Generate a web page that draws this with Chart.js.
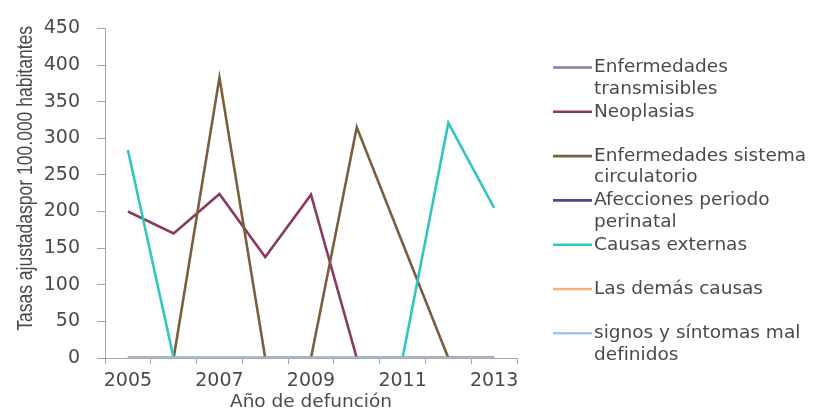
<!DOCTYPE html>
<html lang="es">
<head>
<meta charset="utf-8">
<title>Tasas ajustadas por causa de defunción, 2005–2013</title>
<script src="https://cdn.jsdelivr.net/npm/chart.js@4/dist/chart.umd.min.js"></script>
<style>
  html, body { margin: 0; padding: 0; background: #ffffff; }
  #wrap { position: relative; width: 822px; height: 415px; }
</style>
</head>
<body>
<div id="wrap"><canvas id="chart"></canvas></div>
<script>
// Años de defunción (eje X)
const years = ['2005', '2006', '2007', '2008', '2009', '2010', '2011', '2012', '2013'];

// Tasas ajustadas por 100.000 habitantes, por grupo de causas
const transmisibles = [0, 0, 0, 0, 0, 0, 0, 0, 0];
const neoplasias    = [200, 170, 224, 138, 223, 0, 0, 0, 0];
const circulatorio  = [0, 0, 383, 0, 0, 315, 157, 0, 0];
const perinatal     = [0, 0, 0, 0, 0, 0, 0, 0, 0];
const externas      = [284, 0, 0, 0, 0, 0, 0, 321, 205];
const demasCausas   = [0, 0, 0, 0, 0, 0, 0, 0, 0];
const malDefinidos  = [0, 0, 0, 0, 0, 0, 0, 0, 0];

// Nombres de las series (en varias líneas, como en la leyenda)
const seriesNames = [
  ['Enfermedades', 'transmisibles'],
  ['Neoplasias'],
  ['Enfermedades sistema', 'circulatorio'],
  ['Afecciones periodo', 'perinatal'],
  ['Causas externas'],
  ['Las demás causas'],
  ['signos y síntomas mal', 'definidos']
];
const seriesValues = [transmisibles, neoplasias, circulatorio, perinatal, externas, demasCausas, malDefinidos];
const seriesColors = ['#8080b0', '#8a3a62', '#7b5e3c', '#4b4b7d', '#33c6bf', '#f2b07c', '#9fc4e8'];

// Ticks del eje Y
const yMin = 0, yMax = 450, yStep = 50;
const yTitle = 'Tasas ajustadaspor 100.000 habitantes';

const TEXT = '#4a4a4a';
const AXIS = '#a6a6a6';
const FONT = "'DejaVu Sans', 'Liberation Sans', sans-serif";

const datasets = seriesValues.map((vals, i) => ({
  label: seriesNames[i].join(' '),
  data: vals,
  borderColor: seriesColors[i],
  backgroundColor: seriesColors[i],
  borderWidth: 2.6,
  pointRadius: 0,
  pointHoverRadius: 0,
  tension: 0,
  fill: false,
  // la última serie queda encima, como en el orden de la leyenda
  order: seriesValues.length - i
}));

// Leyenda a la derecha, con etiquetas en dos líneas
const sideLegend = {
  id: 'sideLegend',
  afterDraw(chart) {
    const ctx = chart.ctx;
    const x0 = 553, x1 = 592, tx = 594;
    const top = 67.5, pitch = 44.3, lineH = 21.5;
    ctx.save();
    ctx.font = "18.5px " + FONT;
    ctx.textBaseline = 'middle';
    ctx.textAlign = 'left';
    seriesNames.forEach((lines, i) => {
      const y = top + i * pitch;
      ctx.strokeStyle = seriesColors[i];
      ctx.lineWidth = 2.6;
      ctx.beginPath();
      ctx.moveTo(x0, y);
      ctx.lineTo(x1, y);
      ctx.stroke();
      ctx.fillStyle = TEXT;
      lines.forEach((t, k) => ctx.fillText(t, tx, y + k * lineH));
    });
    ctx.restore();
  }
};

// Título del eje Y en letra estrecha, alineado con la parte alta del eje
const narrowYTitle = {
  id: 'narrowYTitle',
  afterDraw(chart) {
    const ctx = chart.ctx;
    const area = chart.chartArea;
    ctx.save();
    ctx.font = "21.5px 'Liberation Sans', Arial, sans-serif";
    ctx.fillStyle = TEXT;
    ctx.textAlign = 'right';
    ctx.textBaseline = 'alphabetic';
    ctx.translate(32, area.top - 2.5);
    ctx.rotate(-Math.PI / 2);
    ctx.scale(0.815, 1);
    ctx.fillText(yTitle, 0, 0);
    ctx.restore();
  }
};

new Chart(document.getElementById('chart'), {
  type: 'line',
  data: { labels: years, datasets },
  plugins: [sideLegend, narrowYTitle],
  options: {
    responsive: true,
    maintainAspectRatio: false,
    animation: false,
    events: [],
    layout: { padding: { top: 21, right: 305, bottom: 0, left: 0 } },
    plugins: {
      legend: { display: false },
      tooltip: { enabled: false }
    },
    scales: {
      x: {
        type: 'category',
        offset: true,
        grid: { offset: true, drawOnChartArea: false, drawTicks: true, tickLength: 6, color: AXIS },
        border: { color: AXIS, width: 1 },
        ticks: {
          autoSkip: false,
          maxRotation: 0,
          padding: 6,
          color: TEXT,
          font: { family: FONT, size: 19 },
          callback: (v, i) => (i % 2 === 0 ? years[i] : '')
        },
        title: {
          display: true,
          text: 'Año de defunción',
          color: TEXT,
          font: { family: FONT, size: 18.5 },
          padding: { top: 0, bottom: 2 }
        },
        afterFit: s => { s.height = 57; }
      },
      y: {
        min: yMin,
        max: yMax,
        grid: { drawOnChartArea: false, drawTicks: true, tickLength: 8, color: AXIS },
        border: { color: AXIS, width: 1 },
        ticks: {
          stepSize: yStep,
          padding: 17,
          color: TEXT,
          font: { family: FONT, size: 19 }
        },
        afterFit: s => { s.width = 105; }
      }
    }
  }
});
</script>
</body>
</html>
